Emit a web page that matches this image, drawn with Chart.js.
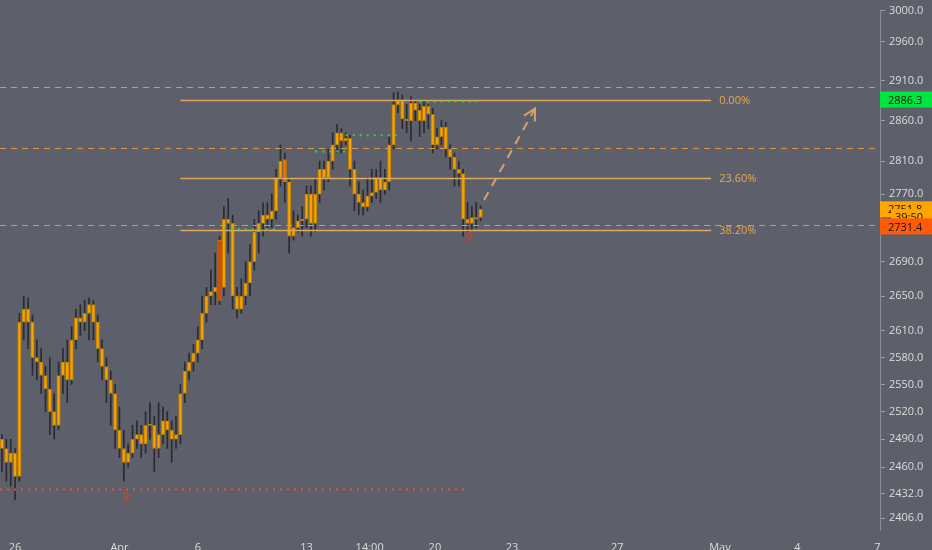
<!DOCTYPE html>
<html>
<head>
<meta charset="utf-8">
<script src="https://cdn.jsdelivr.net/npm/chart.js@4.4.0/dist/chart.umd.min.js"></script>
<style>
  html, body { margin: 0; padding: 0; background: #5d606b; }
  #wrap { width: 932px; height: 550px; }
</style>
</head>
<body>
<div id="wrap"><canvas id="myChart" width="932" height="550"></canvas></div>
<script>
// candles (one per bar slot)
var opens  = [2490,2480,2465,2475,2450,2620,2635,2620,2580,2575,2560,2545,2520,2505,2560,2575,2555,2600,2625,2620,
              2630,2640,2620,2590,2570,2555,2540,2500,2480,2465,2475,2490,2495,2485,2505,2505,2480,2495,2510,2500,
              2490,2495,2540,2565,2575,2585,2600,2630,2650,2655,2715,2660,2740,2735,2650,2635,2650,2665,2690,2725,
              2735,2745,2740,2750,2790,2812,2785,2720,2730,2738,2740,2770,2735,2770,2800,2790,2810,2830,2845,2835,
              2838,2800,2770,2760,2755,2768,2772,2790,2775,2785,2830,2880,2886,2862,2860,2882,2873,2860,2878,2868,
              2830,2840,2852,2825,2815,2800,2795,2740,2735,2742,2742];
var closes = [2480,2465,2475,2450,2620,2635,2620,2580,2575,2560,2545,2520,2505,2560,2575,2555,2600,2625,2620,2630,
              2640,2620,2590,2570,2555,2540,2500,2480,2465,2475,2490,2495,2485,2505,2505,2480,2495,2510,2500,2490,
              2495,2540,2565,2575,2585,2600,2630,2650,2655,2660,2645,2740,2735,2650,2635,2650,2665,2690,2725,2735,
              2745,2740,2750,2790,2810,2785,2720,2730,2738,2740,2770,2735,2770,2800,2790,2810,2830,2845,2835,2838,
              2800,2770,2760,2755,2768,2772,2790,2775,2785,2830,2880,2886,2862,2860,2882,2873,2860,2878,2868,2830,
              2840,2852,2825,2815,2800,2795,2740,2735,2742,2740,2752];
var highs  = [2495,2490,2490,2480,2630,2650,2648,2628,2600,2590,2570,2580,2540,2575,2590,2600,2615,2635,2640,2645,
              2648,2645,2628,2600,2580,2565,2550,2525,2500,2485,2505,2510,2505,2520,2530,2515,2530,2525,2520,2510,
              2515,2550,2575,2585,2595,2615,2650,2660,2680,2700,2720,2755,2765,2745,2660,2670,2690,2710,2740,2750,
              2760,2760,2770,2800,2830,2820,2790,2750,2745,2755,2780,2780,2790,2810,2810,2825,2845,2855,2850,2845,
              2842,2810,2785,2775,2790,2800,2800,2810,2800,2840,2895,2896,2892,2880,2890,2885,2880,2885,2880,2875,
              2850,2860,2858,2830,2820,2810,2800,2760,2755,2760,2756];
var lows   = [2455,2445,2440,2425,2445,2600,2590,2560,2555,2540,2520,2495,2490,2500,2540,2530,2550,2590,2605,2610,
              2600,2600,2575,2555,2530,2505,2480,2470,2445,2460,2470,2480,2470,2475,2490,2455,2470,2485,2480,2465,
              2480,2485,2530,2555,2565,2575,2590,2620,2640,2640,2640,2650,2700,2635,2625,2630,2640,2650,2680,2700,
              2720,2725,2730,2740,2780,2760,2700,2715,2725,2720,2730,2720,2725,2760,2775,2785,2800,2820,2820,2830,
              2780,2750,2745,2745,2750,2760,2765,2760,2770,2775,2825,2870,2850,2845,2835,2860,2840,2845,2850,2820,
              2825,2830,2815,2800,2780,2780,2720,2725,2728,2730,2738];
var redBars = [50, 65];

// price axis / time axis labels
var yTicks = [3000, 2960, 2910, 2860, 2810, 2770, 2730, 2690, 2650, 2610, 2580, 2550, 2520, 2490, 2460, 2432, 2406];
var xTickPos = [3, 27, 45, 70, 84.5, 99.5, 117.2, 141.4, 165, 182.8, 201.2];
var xTickLabels = ['26', 'Apr', '6', '13', '14:00', '20', '23', '27', 'May', '4', '7'];

// drawing levels
var dashedLevels = [2902, 2826, 2733];
var fibLevels = [2886.3, 2789, 2727];
var fibLabels = ['0.00%', '23.60%', '38.20%'];
var fibFrom = 41, fibTo = 163;
var arrowFrom = [110.8, 2763], arrowTo = [122.5, 2875];
var priceTags = [['2886.3', 2886.3, '#00e640'], ['2751.8', 2751.8, '#ffa500'], ['39:50', 2742.5, '#ffa500'], ['2731.4', 2731.4, '#ff5a0a']];

function DrawChart() {
    var ctx = document.getElementById('myChart').getContext('2d');
    var wicks = [], bodies = [], bodyColors = [];
    for (var i = 0; i < closes.length; i++) {
        wicks.push({x: i, y: [lows[i], highs[i]]});
        var o = opens[i], c = closes[i];
        if (Math.abs(o - c) < 1.5) c = o + 1.5;
        bodies.push({x: i, y: [o, c]});
        bodyColors.push(redBars.indexOf(i) >= 0 ? (i == 50 ? '#e23a12' : '#ff6a00') : '#f5a300');
    }

    var overlay = {
        id: 'overlay',
        afterDatasetsDraw: function (chart) {
            var c = chart.ctx, xs = chart.scales.x, ys = chart.scales.y, a = chart.chartArea;
            c.save();
            c.beginPath(); c.rect(a.left, a.top, a.right - a.left, a.bottom - a.top); c.clip();
            // dashed horizontal levels
            c.strokeStyle = '#d89a4a'; c.lineWidth = 1; c.setLineDash([6, 5]);
            dashedLevels.forEach(function (v) {
                var y = Math.round(ys.getPixelForValue(v)) + 0.5;
                c.beginPath(); c.moveTo(a.left, y); c.lineTo(a.right, y); c.stroke();
            });
            // fib lines
            c.setLineDash([]); c.strokeStyle = '#e0a858'; c.lineWidth = 1.5;
            c.font = '11px "Open Sans", sans-serif'; c.fillStyle = '#e8a850'; c.textBaseline = 'middle';
            fibLevels.forEach(function (v, k) {
                var y = Math.round(ys.getPixelForValue(v)) + 0.5;
                c.beginPath(); c.moveTo(xs.getPixelForValue(fibFrom), y); c.lineTo(xs.getPixelForValue(fibTo), y); c.stroke();
                c.fillText(fibLabels[k], xs.getPixelForValue(fibTo) + 8, y);
            });
            // dotted markers
            c.setLineDash([2, 5]); c.lineWidth = 2;
            c.strokeStyle = '#e05a2a';
            var yr = ys.getPixelForValue(2436);
            c.beginPath(); c.moveTo(a.left, yr); c.lineTo(xs.getPixelForValue(106.5), yr); c.stroke();
            c.strokeStyle = '#2fd060';
            [[96, 110, 2884], [79, 91, 2842], [72, 79, 2822], [51, 63, 2728]].forEach(function (s) {
                var y = ys.getPixelForValue(s[2]);
                c.beginPath(); c.moveTo(xs.getPixelForValue(s[0]), y); c.lineTo(xs.getPixelForValue(s[1]), y); c.stroke();
            });
            c.setLineDash([]);
            c.fillStyle = '#e0401a'; c.font = '12px "Open Sans", sans-serif'; c.textAlign = 'center';
            c.fillText('9', xs.getPixelForValue(28.5), ys.getPixelForValue(2428));
            c.fillText('9', xs.getPixelForValue(107.3), ys.getPixelForValue(2718));
            // projection arrow
            var x1 = xs.getPixelForValue(arrowFrom[0]), y1 = ys.getPixelForValue(arrowFrom[1]);
            var x2 = xs.getPixelForValue(arrowTo[0]), y2 = ys.getPixelForValue(arrowTo[1]);
            c.strokeStyle = '#d9a070'; c.lineWidth = 2; c.setLineDash([9, 7]);
            c.beginPath(); c.moveTo(x1, y1); c.lineTo(x2, y2); c.stroke();
            c.setLineDash([]);
            var ang = Math.atan2(y2 - y1, x2 - x1);
            c.beginPath();
            c.moveTo(x2 - 13 * Math.cos(ang - 0.5), y2 - 13 * Math.sin(ang - 0.5)); c.lineTo(x2, y2);
            c.lineTo(x2 - 13 * Math.cos(ang + 0.5), y2 - 13 * Math.sin(ang + 0.5));
            c.stroke();
            c.restore();
            // price tags on the axis
            c.save();
            c.font = '11px "Open Sans", sans-serif'; c.textBaseline = 'middle'; c.textAlign = 'left';
            priceTags.forEach(function (t, k) {
                var y = ys.getPixelForValue(t[1]);
                var x0 = k == 2 ? a.right + 11 : a.right;
                c.fillStyle = t[2]; c.fillRect(x0, y - 8, 932 - x0, 16);
                c.fillStyle = '#111'; c.fillText(t[0], x0 + (k == 2 ? 4 : 8), y + 1);
            });
            c.restore();
        }
    };

    var myChart = new Chart(ctx, {
        type: 'bar',
        data: {
            datasets: [{
                label: 'bodies',
                data: bodies,
                backgroundColor: bodyColors,
                borderColor: '#b77a00',
                borderWidth: 1,
                borderSkipped: false,
                barThickness: 3.5,
                grouped: false,
                order: 1
            }, {
                label: 'wicks',
                data: wicks,
                backgroundColor: '#2a2b30',
                barThickness: 1,
                grouped: false,
                order: 2
            }]
        },
        options: {
            responsive: false,
            animation: false,
            layout: { padding: 0 },
            plugins: { legend: { display: false }, tooltip: { enabled: false } },
            scales: {
                x: {
                    type: 'linear',
                    min: -0.46, max: 201.8,
                    offset: false,
                    grid: { display: false },
                    border: { display: false },
                    afterBuildTicks: function (axis) { axis.ticks = xTickPos.map(function (v) { return {value: v}; }); },
                    afterFit: function (axis) { axis.height = 20; },
                    ticks: {
                        autoSkip: false, maxRotation: 0, color: '#dcdcdc',
                        font: { size: 11, family: '"Open Sans", sans-serif' },
                        callback: function (v) { var k = xTickPos.indexOf(v); return k >= 0 ? xTickLabels[k] : ''; }
                    }
                },
                y: {
                    type: 'logarithmic',
                    position: 'right',
                    min: 2393.6, max: 3000.2,
                    grid: { drawOnChartArea: false, color: '#9a9ca4', tickLength: 5 },
                    border: { color: '#8a8c94' },
                    afterBuildTicks: function (axis) { axis.ticks = yTicks.map(function (v) { return {value: v}; }); },
                    afterFit: function (axis) { axis.width = 52; },
                    ticks: {
                        autoSkip: false, color: '#dcdcdc', padding: 4,
                        font: { size: 11, family: '"Open Sans", sans-serif' },
                        callback: function (v) { return Number(v).toFixed(1); }
                    }
                }
            }
        },
        plugins: [overlay]
    });
}

DrawChart();
</script>
</body>
</html>
